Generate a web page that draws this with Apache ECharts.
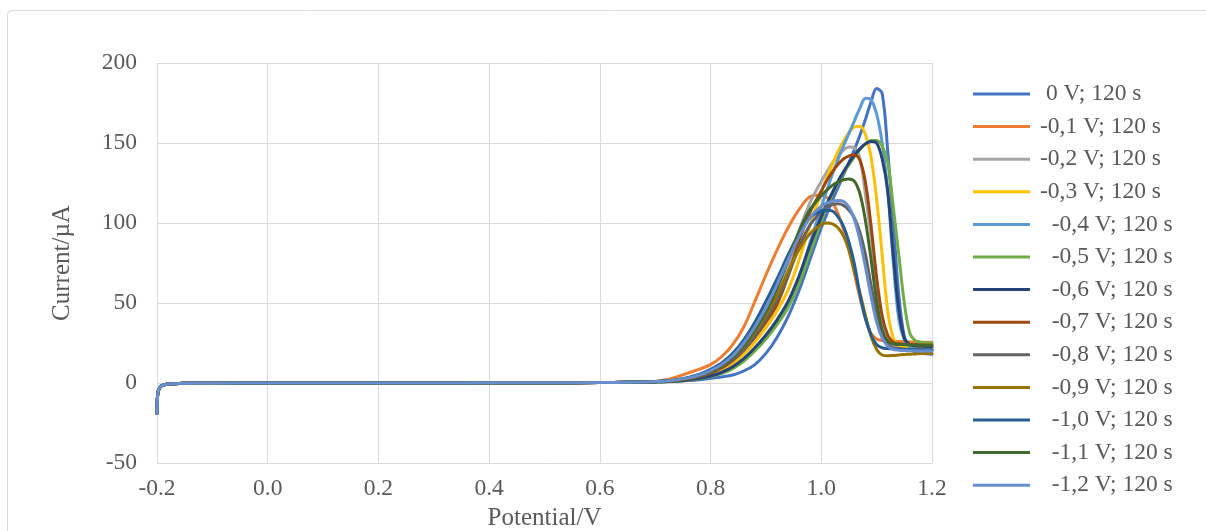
<!DOCTYPE html>
<html>
<head>
<meta charset="utf-8">
<script src="https://cdn.jsdelivr.net/npm/echarts@6/dist/echarts.min.js"></script>
<style>
html,body{margin:0;padding:0;background:#fff;}
#chart{width:1206px;height:531px;}
</style>
</head>
<body>
<div id="chart"></div>
<script>
// Shared low-potential segment (all curves overlap here)
const lowPotential = [-0.2, -0.1995, -0.199, -0.198, -0.196, -0.194, -0.19, -0.185, -0.18, -0.17, -0.15, -0.1, 0, 0.1, 0.2, 0.3, 0.4, 0.5, 0.6, 0.65, 0.68];
const lowCurrent   = [-19, -12, -8, -5.5, -3.5, -2.4, -1.5, -0.9, -0.6, -0.4, -0.2, -0.1, 0, 0, 0, 0.05, 0.1, 0.15, 0.3, 0.45, 0.55];

// Peak-region potentials (V)
const peakPotential = [0.70, 0.72, 0.74, 0.76, 0.78, 0.80, 0.82, 0.84, 0.86, 0.88, 0.90, 0.92, 0.94, 0.96, 0.98, 1.00,
  1.01, 1.02, 1.03, 1.04, 1.05, 1.06, 1.07, 1.08, 1.09, 1.10, 1.11, 1.12, 1.13, 1.14, 1.15, 1.16, 1.17, 1.18, 1.19, 1.20];

// Series names (legend text)
const seriesNames = [' 0 V; 120 s', '-0,1 V; 120 s', '-0,2 V; 120 s', '-0,3 V; 120 s', '  -0,4 V; 120 s', '  -0,5 V; 120 s',
  '  -0,6 V; 120 s', '  -0,7 V; 120 s', '  -0,8 V; 120 s', '  -0,9 V; 120 s', '  -1,0 V; 120 s', '  -1,1 V; 120 s', '  -1,2 V; 120 s'];

// Current (µA) per series over peakPotential
const cur0V   = [0.6,0.8,1.1,1.5,2.1,2.9,3.8,5,7.5,11.5,18.5,28.5,41.5,58,77.5,97,105.5,114,122,130,138,146,155,165,176,184,181,145,101,55,29,21.5,19.5,18.8,18.3,18];
const curM01  = [1.0,2.0,4.0,6.3,8.7,11.5,16.5,24,35,51,67.5,83,97,108.5,116.5,117.5,116,113,106,96,83,68,53,40,31,27.5,26.5,26,26,26,25.8,25.7,25.6,25.5,25.5,25.5];
const curM02  = [0.8,1.1,1.7,2.7,4.3,6.7,10,15,21.5,30,40.5,53,73,95,113,126,132,137.5,142,145.5,147.5,147,140,117,91,60,38,27,23.5,22.5,22.2,22,22,21.8,21.7,21.6];
const curM03  = [0.7,1.0,1.4,2.1,3.3,5.2,8,12,18,25.5,34.5,45,58,77,99,119,128.5,137,144.5,151,156.5,160,160.5,155,141,115,80,45,28,23.5,22.5,22.2,22,22,21.9,21.8];
const curM04  = [0.7,0.9,1.3,1.9,2.9,4.4,6.6,10,15,21.5,29.5,38.5,49.5,66,88,110,120.5,130.5,139.5,148,156,164,172,178,177,168,150,120,76,40,27,22.5,21.5,21,21,20.8];
const curM05  = [0.6,0.8,1.2,1.7,2.6,3.9,5.9,9,13.6,20,27.5,36.5,47,62,81.5,101,110,118,125,131,136.5,141.5,146,149.5,151.5,151.5,148,138,110,80,50,31,26.5,25.5,25.2,25];
const curM06  = [0.7,0.9,1.3,1.9,2.9,4.4,6.7,10.2,15.3,22,30,39.5,51,67,86.5,104,112,119,126,132,137.5,142.5,146.5,149.5,151,150,140,120,80,46,28,24,23.2,23,22.8,22.7];
const curM07  = [0.8,1.1,1.6,2.5,4.0,6.2,9.4,14,20.5,28.5,38,49,67,89,107,120,126.5,132,136.5,140,142,142.5,139,125,98,66,42,30,25.5,24.5,24.2,24,24,23.8,23.8,23.7];
const curM08  = [0.8,1.1,1.7,2.7,4.3,6.6,10,14.5,21,29.5,40,52,67,85,99,107,110,111.5,112,111,108,103,94,80,61,43,30,24,22,21.5,21.2,21,21,20.8,20.7,20.6];
const curM09  = [0.8,1.2,1.9,3.0,4.7,7.2,10.8,16,23,32,42.5,55,69.5,83.5,93.5,99,100,99.5,97,92,83,70,56,42,29,21,17.5,17,17.2,17.5,17.8,18,18.2,18.4,18.5,18.5];
const curM10  = [0.9,1.4,2.2,3.5,5.5,8.5,12.5,18.5,27,38,51,65,80,93.5,103.5,107.5,108,107.5,104,98,88,74,55,40,30,24,22,21.5,21.2,21,21,20.8,20.7,20.6,20.5,20.5];
const curM11  = [0.8,1.2,1.9,3.0,4.7,7.2,11,16,23.5,33,44.5,59,77,95,108.5,117,120.5,123.5,125.5,127,127.5,126,118,101,77,51,33,26,24.5,24,24,23.8,23.7,23.6,23.5,23.5];
const curM12  = [0.9,1.3,2.0,3.2,5.0,7.8,11.5,17,25,35,47,61.5,77,91.5,103.5,110.5,112.5,113.5,114,113.5,110,102,89,72,54,38,28,23,21,20.5,20.3,20.2,20.1,20,20,20];

const seriesCurrents = [cur0V, curM01, curM02, curM03, curM04, curM05, curM06, curM07, curM08, curM09, curM10, curM11, curM12];
const seriesColors = ['#4472C4', '#ED7D31', '#A5A5A5', '#FFC000', '#5B9BD5', '#70AD47', '#264478', '#9E480E', '#636363', '#997300', '#255E91', '#43682B', '#698ED0'];

const xTicks = { min: -0.2, max: 1.2, interval: 0.2 };
const yTicks = { min: -50, max: 200, interval: 50 };

const FONT = "'Liberation Serif', 'Times New Roman', serif";
const TXT = '#595959';

const series = seriesNames.map((name, s) => {
  const data = lowPotential.map((x, i) => [x, lowCurrent[i]])
    .concat(peakPotential.map((x, i) => [x, seriesCurrents[s][i]]));
  return {
    name: name,
    type: 'line',
    data: data,
    symbol: 'none',
    showSymbol: false,
    smooth: 0.35,
    lineStyle: { width: 3, color: seriesColors[s], cap: 'round', join: 'round' },
    itemStyle: { color: seriesColors[s] },
    emphasis: { disabled: true }
  };
});

const chart = echarts.init(document.getElementById('chart'), null, { renderer: 'canvas' });
chart.setOption({
  animation: false,
  backgroundColor: '#ffffff',
  graphic: [{
    type: 'rect',
    shape: { x: 7.5, y: 10.5, width: 1205, height: 540, r: 4 },
    style: { fill: 'none', stroke: '#d9d9d9', lineWidth: 1 },
    z: -10
  }],
  grid: { left: 157, right: 274, top: 63, bottom: 68, containLabel: false, outerBoundsMode: 'none' },
  legend: {
    orient: 'vertical',
    left: 968,
    top: 77,
    itemWidth: 57,
    itemHeight: 3,
    itemGap: 8.6,
    icon: 'rect',
    textStyle: { fontFamily: FONT, fontSize: 23.5, color: TXT, lineHeight: 24, padding: [0, 0, 0, 5] },
    data: seriesNames
  },
  xAxis: {
    type: 'value',
    min: xTicks.min, max: xTicks.max, interval: xTicks.interval,
    name: 'Potential/V',
    nameLocation: 'middle',
    nameGap: 42,
    nameTextStyle: { fontFamily: FONT, fontSize: 25, color: TXT },
    axisLine: { show: false },
    axisTick: { show: false },
    axisLabel: { fontFamily: FONT, fontSize: 23.5, color: TXT, margin: 14,
      formatter: v => Number(v).toFixed(1) },
    splitLine: { show: true, lineStyle: { color: '#d9d9d9', width: 1 } }
  },
  yAxis: {
    type: 'value',
    min: yTicks.min, max: yTicks.max, interval: yTicks.interval,
    name: 'Current/µA',
    nameLocation: 'middle',
    nameGap: 82,
    nameRotate: 90,
    nameTextStyle: { fontFamily: FONT, fontSize: 25, color: TXT },
    axisLine: { show: false },
    axisTick: { show: false },
    axisLabel: { fontFamily: FONT, fontSize: 23.5, color: TXT, margin: 20 },
    splitLine: { show: true, lineStyle: { color: '#d9d9d9', width: 1 } }
  },
  series: series
});
</script>
</body>
</html>
